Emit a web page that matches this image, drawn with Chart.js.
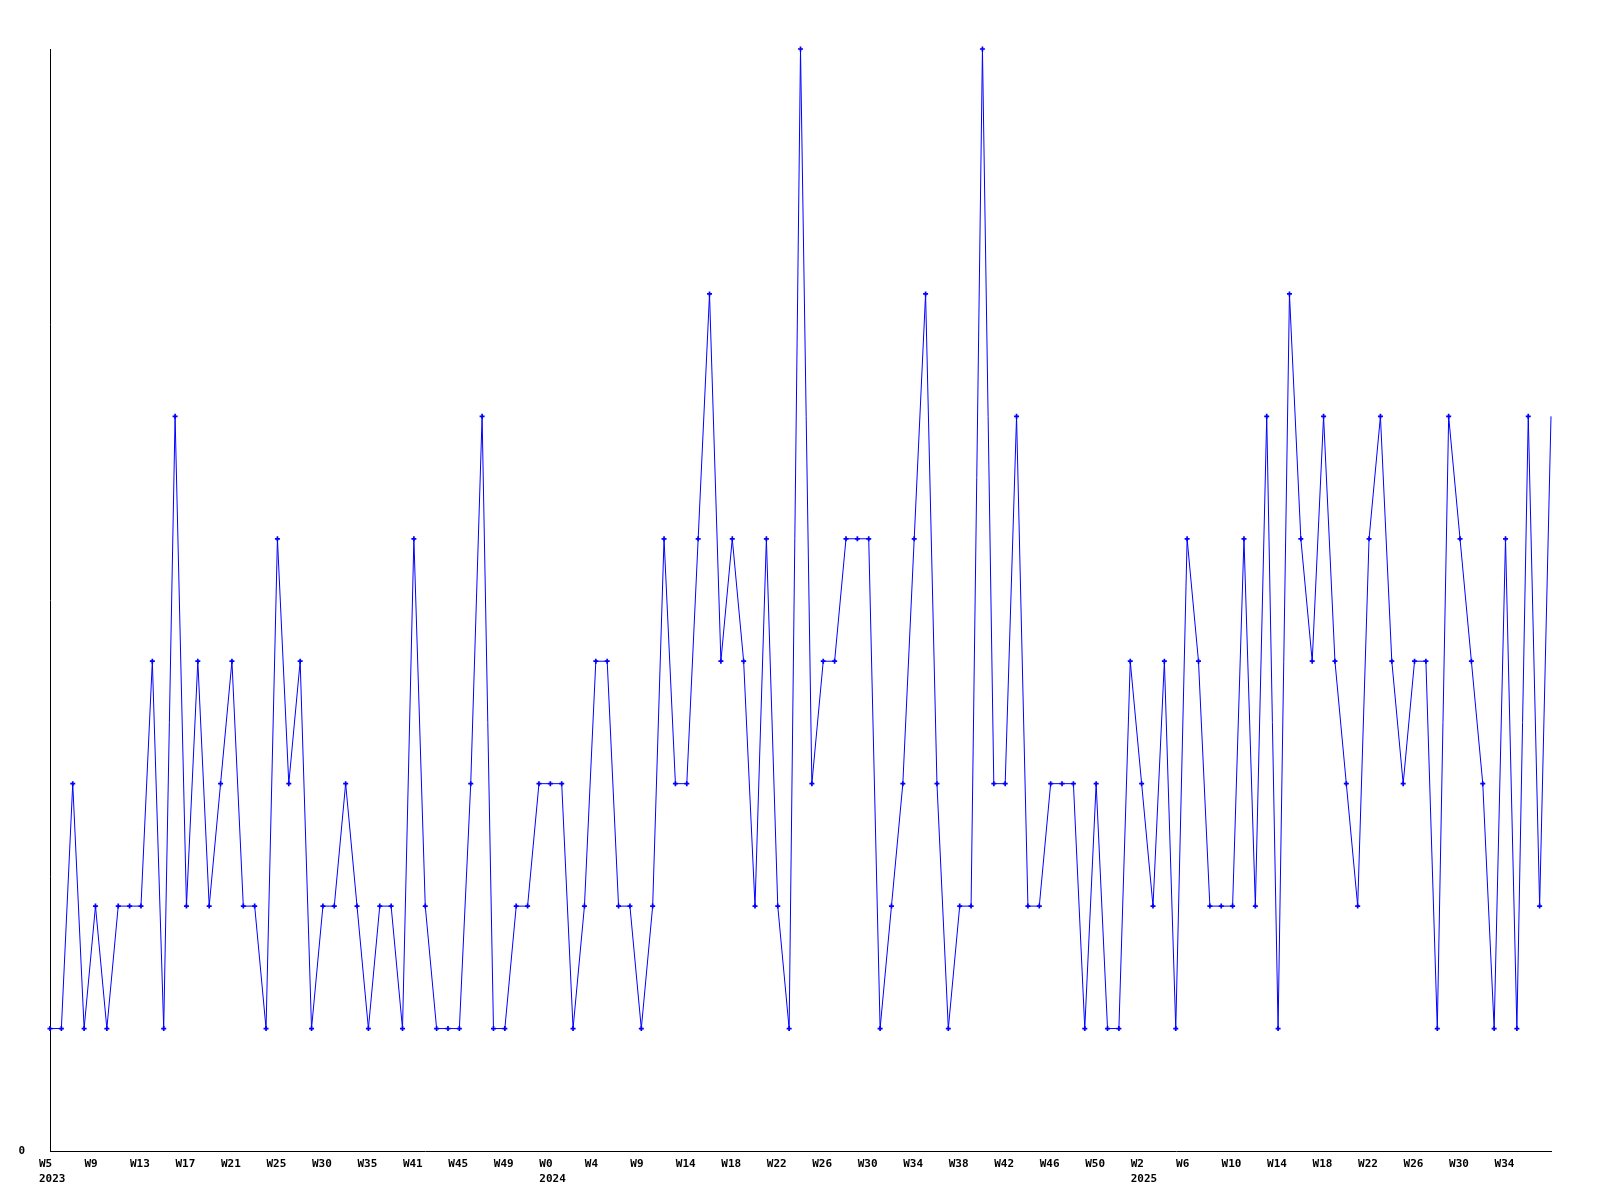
<!DOCTYPE html>
<html>
<head>
<meta charset="utf-8">
<script src="https://cdn.jsdelivr.net/npm/chart.js@4/dist/chart.umd.min.js"></script>
<style>
  html, body { margin:0; padding:0; background:#fff; }
  canvas { display:block; }
</style>
</head>
<body>
<canvas id="c" width="1600" height="1200"></canvas>
<script>
// weekly counts, one per point
const counts = [
  1,1,3,1,2,1,2,2,2,4, 1,6,2,4,2,3,4,2,2,1,
  5,3,4,1,2,2,3,2,1,2, 2,1,5,2,1,1,1,3,6,1,
  1,2,2,3,3,3,1,2,4,4, 2,2,1,2,5,3,3,5,7,4,
  5,4,2,5,2,1,9,3,4,4, 5,5,5,1,2,3,5,7,3,1,
  2,2,9,3,3,6,2,2,3,3, 3,1,3,1,1,4,3,2,4,1,
  5,4,2,2,2,5,2,6,1,7, 5,4,6,4,3,2,5,6,4,3,
  4,4,1,6,5,4,3,1,5,1, 6,2,6
];
// labels shown every 4th point
const weekTicks = ['W5','W9','W13','W17','W21','W25','W30','W35','W41','W45','W49',
  'W0','W4','W9','W14','W18','W22','W26','W30','W34','W38','W42','W46',
  'W50','W2','W6','W10','W14','W18','W22','W26','W30','W34'];
const yearAt = [0, 11, 24];
const years = ['2023', '2024', '2025'];
const yMax = 9;

const pts = counts.map((v, i) => ({ x: i, y: v }));
const last = counts.length - 1;
const font = { family: 'DejaVu Sans Mono', size: 11, weight: 'bold', lineHeight: 1.4 };

new Chart(document.getElementById('c').getContext('2d'), {
  type: 'line',
  data: {
    datasets: [{
      data: pts,
      clip: false,
      borderColor: '#0000ff',
      borderWidth: 1,
      tension: 0,
      pointStyle: 'cross',
      pointRadius: (ctx) => ctx.dataIndex === last ? 0 : 2.5,
      pointBorderWidth: 1.7,
      pointBorderColor: '#0000ff',
      pointBackgroundColor: '#0000ff'
    }]
  },
  options: {
    responsive: false,
    animation: false,
    layout: { padding: { top: 49, right: 49, left: 0, bottom: 0 } },
    plugins: { legend: { display:false }, tooltip: { enabled:false } },
    scales: {
      x: {
        type: 'linear',
        min: 0, max: last,
        grid: { display:false, drawTicks:false },
        border: { display:true, color:'#000', width:1 },
        afterFit: (s) => { s.height = 49; },
        ticks: {
          stepSize: 4, autoSkip: false, maxRotation: 0, includeBounds: false,
          align: 'start', labelOffset: -11, padding: 5,
          color: '#000', font,
          callback: (v) => {
            const k = v / 4;
            const w = weekTicks[k];
            if (!w) return '';
            const y = yearAt.indexOf(k);
            return y >= 0 ? [w, years[y]] : w;
          }
        }
      },
      y: {
        min: 0, max: yMax,
        grid: { display:false, drawTicks:false },
        border: { display:true, color:'#000', width:1 },
        afterFit: (s) => { s.width = 50; },
        ticks: {
          stepSize: yMax, padding: 25, color:'#000', font,
          callback: (v) => v === 0 ? '0' : ''
        }
      }
    }
  }
});
</script>
</body>
</html>
